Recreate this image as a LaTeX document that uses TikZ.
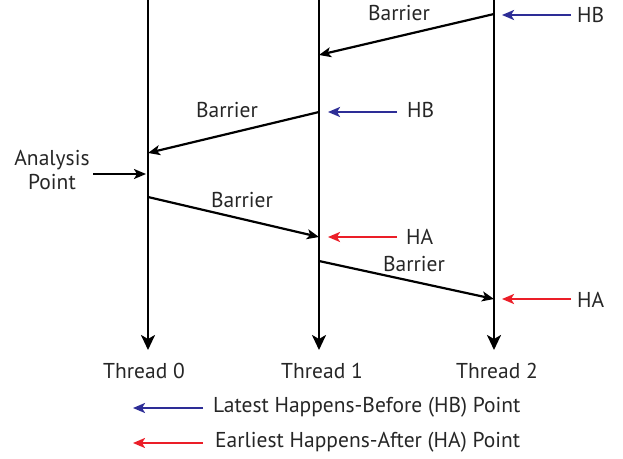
\documentclass[tikz,border=0pt]{standalone}
\usepackage{fontspec}
\setmainfont{PT Sans}
\usetikzlibrary{arrows.meta}
\definecolor{hbblue}{RGB}{45,45,150}
\definecolor{hared}{RGB}{235,30,40}
\tikzset{
  thr/.style={line width=2.6pt,-{Stealth[length=15pt,width=14pt,inset=4pt]}},
  bar/.style={line width=2.2pt,-{Stealth[length=12pt,width=10pt,inset=3pt]}},
  hb/.style={line width=2.2pt,draw=hbblue,-{Stealth[length=12pt,width=10pt,inset=3pt]}},
  ha/.style={line width=2.2pt,draw=hared,-{Stealth[length=12pt,width=10pt,inset=3pt]}},
  lbl/.style={font=\fontsize{21.5}{24}\selectfont,inner sep=0pt,text=black!85},
}
\begin{document}
\begin{tikzpicture}[x=1pt,y=-1pt]
\useasboundingbox (0,0) rectangle (623,458);
% threads
\coordinate (t0s) at (148,0); \coordinate (t0e) at (148,350);
\coordinate (t1s) at (319,0); \coordinate (t1e) at (319,350);
\coordinate (t2s) at (494,0); \coordinate (t2e) at (494,350);
\draw[thr] (t0s) -- (t0e);
\draw[thr] (t1s) -- (t1e);
\draw[thr] (t2s) -- (t2e);
\node[lbl] (th0) at (144,371) {Thread 0};
\node[lbl] (th1) at (322,371) {Thread 1};
\node[lbl] (th2) at (497,371) {Thread 2};
% barrier points
\coordinate (b1s) at (494,14);  \coordinate (b1e) at (319,55);
\coordinate (b2s) at (319,112); \coordinate (b2e) at (148,153);
\coordinate (b3s) at (148,197); \coordinate (b3e) at (319,237);
\coordinate (b4s) at (319,261); \coordinate (b4e) at (494,299);
\draw[bar] (b1s) -- (b1e);
\draw[bar] (b2s) -- (b2e);
\draw[bar] (b3s) -- (b3e);
\draw[bar] (b4s) -- (b4e);
\node[lbl] (bl1) at (399,13) {Barrier};
\node[lbl] (bl2) at (227,110) {Barrier};
\node[lbl] (bl3) at (242,200) {Barrier};
\node[lbl] (bl4) at (414,264) {Barrier};
% HB / HA markers
\node[lbl,anchor=west] (hb1) at (577,15) {HB};
\node[lbl,anchor=west] (hb2) at (407,110) {HB};
\node[lbl,anchor=west] (ha1) at (406,237) {HA};
\node[lbl,anchor=west] (ha2) at (577,300) {HA};
\coordinate (hb1t) at (502,15);
\coordinate (hb2t) at (328,112);
\coordinate (ha1t) at (328,237);
\coordinate (ha2t) at (502,299);
\draw[hb] (571,15) coordinate (hb1f) -- (hb1t);
\draw[hb] (397,112) coordinate (hb2f) -- (hb2t);
\draw[ha] (397,237) coordinate (ha1f) -- (ha1t);
\draw[ha] (571,299) coordinate (ha2f) -- (ha2t);
% analysis point
\node[lbl,align=center] (ap) at (52,170) {Analysis\\[0pt]Point};
\coordinate (apf) at (93,174); \coordinate (apt) at (146,174);
\draw[bar] (apf) -- (apt);
% legend
\coordinate (lg1f) at (203,408); \coordinate (lg1t) at (133,408);
\coordinate (lg2f) at (203,443); \coordinate (lg2t) at (133,443);
\draw[hb] (lg1f) -- (lg1t);
\draw[ha] (lg2f) -- (lg2t);
\node[lbl,anchor=west] (lg1) at (213,407) {Latest Happens-Before (HB) Point};
\node[lbl,anchor=west] (lg2) at (215,442) {Earliest Happens-After (HA) Point};
\end{tikzpicture}
\end{document}
